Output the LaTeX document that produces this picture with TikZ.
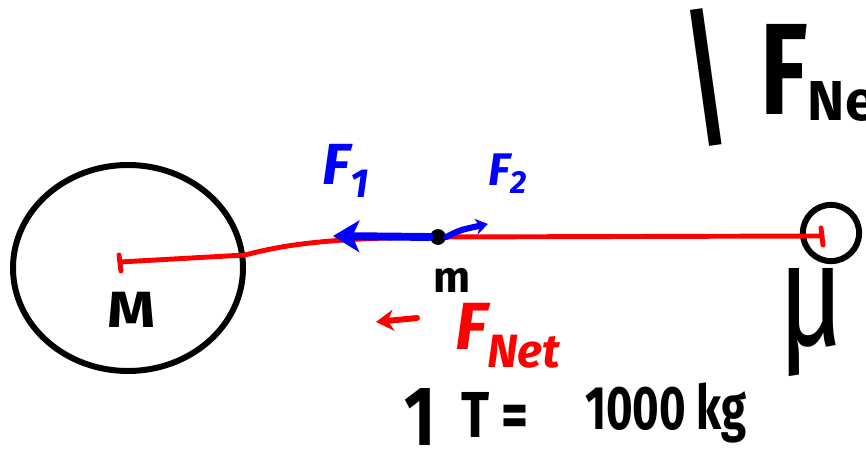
\documentclass[tikz,border=0pt]{standalone}
\usepackage{fontspec}
\usepackage{graphicx}
\setmainfont{Fira Sans}
\usetikzlibrary{arrows.meta}
\definecolor{pred}{RGB}{255,0,0}
\definecolor{pblue}{RGB}{0,0,255}
\newcommand{\narrow}[2]{\scalebox{#1}[1]{#2}}
\begin{document}
\begin{tikzpicture}[x=0.02cm,y=-0.02cm,
  ink/.style={line width=3.4pt,line cap=round,line join=round},
  redink/.style={ink,draw=pred,line width=2.8pt},
  blueink/.style={ink,draw=pblue,line width=4.5pt},
  lbl/.style={inner sep=0pt,font=\bfseries},
  bluelbl/.style={lbl,text=pblue},
  redlbl/.style={lbl,text=pred}]
\useasboundingbox (0,0) rectangle (866,469);
\clip (0,0) rectangle (866,469);
% big mass
\draw[ink] (128,268) ellipse [x radius=115, y radius=103];
\coordinate (Mc) at (120,262);
% small mass
\node[ink,draw,circle,minimum size=32pt,inner sep=0pt] (mu) at (831,233) {};
\coordinate (muc) at (822,236);
% red line
\draw[redink] (Mc) -- (245,255) .. controls (280,246) and (320,238) .. (437,237) -- (muc);
\draw[redink] (119,255) -- (121,271);
\draw[redink] (821,228) -- (823,245);
% small mass m
\node[circle,fill=black,minimum size=9pt,inner sep=0pt] (m) at (438,237) {};
% forces
\coordinate (f1) at (333,236);
\coordinate (f2) at (488,224);
\draw[blueink,-{Stealth[length=15pt,width=18pt,inset=4pt]}] (m.west) -- (f1);
\draw[blueink,line width=3.5pt,-{Stealth[length=7pt,width=9pt]}] (m.east) .. controls (460,230) .. (f2);
\node[bluelbl,anchor=base west,font=\bfseries\itshape\fontsize{33}{33}\selectfont] (F1) at (322,185) {F\textsubscript{1}};
\node[bluelbl,anchor=base west,font=\bfseries\itshape\fontsize{26}{26}\selectfont] (F2) at (488,186) {F\textsubscript{2}};
% labels
\node[lbl,anchor=base,font=\bfseries\fontsize{29}{29}\selectfont] (Ml) at (132,328) {\scalebox{1.2}[1]{M}};
\node[lbl,anchor=base,font=\bfseries\fontsize{25}{25}\selectfont] (ml) at (452,293) {m};
\node[lbl,font=\fontsize{64}{64}\selectfont] (mul) at (812,323) {\scalebox{1}[1.3]{μ}};
% net force
\coordinate (na) at (417,318);
\coordinate (nb) at (376,322);
\draw[redink,line width=3.4pt,-{Stealth[length=10pt,width=12pt]}] (na) -- (nb);
\node[redlbl,anchor=base west,font=\bfseries\itshape\fontsize{38}{38}\selectfont] (Fnet) at (455,350) {F\textsubscript{Net}};
% top right
\node[lbl,rotate=8,font=\fontsize{86}{86}\selectfont] (bar) at (706,78) {|};
\node[lbl,anchor=base west,font=\bfseries\fontsize{74}{74}\selectfont] (Fbig) at (760,115) {\narrow{0.75}{F}{\fontsize{32}{32}\selectfont\raisebox{-3pt}{Net}}};
% units
\node[lbl,anchor=base,font=\bfseries\fontsize{48}{48}\selectfont] (one) at (420,446) {\narrow{0.8}{1}};
\node[lbl,anchor=base,font=\bfseries\fontsize{37}{37}\selectfont] (T) at (495,438) {\narrow{0.8}{T =}};
\node[lbl,anchor=base,font=\bfseries\fontsize{35}{35}\selectfont] (kg) at (666,430) {\narrow{0.74}{1000 kg}};
\end{tikzpicture}
\end{document}
